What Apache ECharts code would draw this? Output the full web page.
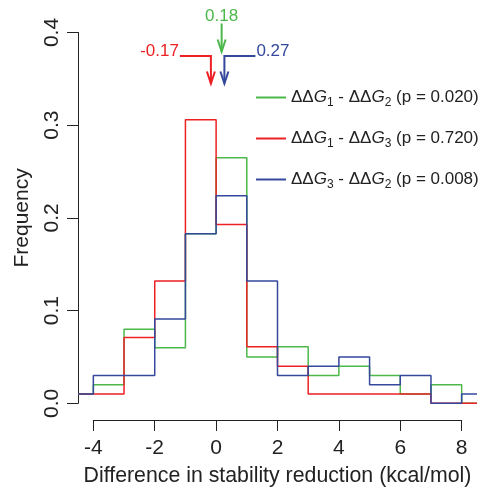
<!DOCTYPE html>
<html>
<head>
<meta charset="utf-8">
<script src="https://cdn.jsdelivr.net/npm/echarts@6/dist/echarts.min.js"></script>
<style>
  html, body { margin: 0; padding: 0; background: #fff; }
  #main { width: 479px; height: 489px; }
</style>
</head>
<body>
<div id="main"></div>
<script>
// bins of width 1, left edges
var binStarts = [-5, -4, -3, -2, -1, 0, 1, 2, 3, 4, 5, 6, 7, 8];
var freqG12 = [0.01, 0.02, 0.08, 0.06, 0.183, 0.265, 0.05, 0.061, 0.03, 0.04, 0.03, 0.01, 0.02, 0.0];
var freqG13 = [0.01, 0.01, 0.071, 0.132, 0.306, 0.193, 0.061, 0.04, 0.01, 0.01, 0.01, 0.01, 0.0, 0.0];
var freqG32 = [0.01, 0.03, 0.03, 0.091, 0.183, 0.224, 0.132, 0.03, 0.04, 0.05, 0.02, 0.03, 0.0, 0.01];
var seriesNames = ['g12', 'g13', 'g32'];
var legendLabels = [
    '{n|ΔΔ}{g|G}{s|1}{n| - ΔΔ}{g|G}{s|2}{n| (p = 0.020)}',
    '{n|ΔΔ}{g|G}{s|1}{n| - ΔΔ}{g|G}{s|3}{n| (p = 0.720)}',
    '{n|ΔΔ}{g|G}{s|3}{n| - ΔΔ}{g|G}{s|2}{n| (p = 0.008)}'
];
var colors = ['#4cb84a', '#ed2024', '#34489c'];
// mean differences shown as arrows
var meanX = [-0.17, 0.18, 0.27];
var meanLabels = ['-0.17', '0.18', '0.27'];
var meanColors = ['#ed2024', '#4cb84a', '#34489c'];
var meanSide = ['left', 'top', 'right'];
var xTicks = [-4, -2, 0, 2, 4, 6, 8];

var xMin = -4.5, xMax = 8.5, yMax = 0.4;

function toSteps(vals) {
    var pts = [];
    for (var i = 0; i < binStarts.length; i++) {
        pts.push([Math.max(binStarts[i], xMin), vals[i]]);
    }
    pts.push([xMax, vals[vals.length - 1]]);
    return pts;
}

var allFreq = [freqG12, freqG13, freqG32];
var font = 'Liberation Sans, Arial, Helvetica, sans-serif';

var series = allFreq.map(function (vals, i) {
    return {
        name: seriesNames[i],
        type: 'line',
        step: 'end',
        symbol: 'none',
        xAxisIndex: 0,
        yAxisIndex: 0,
        data: toSteps(vals),
        lineStyle: { color: colors[i], width: 1.5 },
        itemStyle: { color: colors[i] },
        z: 2 + i
    };
});

series.push({
    type: 'custom',
    xAxisIndex: 0,
    yAxisIndex: 0,
    clip: false,
    silent: true,
    z: 10,
    data: meanX.map(function (x, i) { return [x, i]; }),
    renderItem: function (params, api) {
        var i = api.value(1);
        var p = api.coord([api.value(0), yMax]);
        var px = p[0], top = p[1];
        var c = meanColors[i];
        var side = meanSide[i];
        var children = [];
        var lineStyle = { stroke: c, lineWidth: 2, fill: null };
        var tip, text;
        if (side === 'top') {
            tip = top + 19;
            children.push({ type: 'polyline', shape: { points: [[px, top - 9], [px, tip]] }, style: lineStyle });
            text = { x: px, y: top - 16, align: 'center' };
        } else {
            var dx = side === 'left' ? -31 : 31;
            tip = top + 51;
            children.push({ type: 'polyline', shape: { points: [[px + dx, top + 23.5], [px, top + 23.5], [px, tip]] }, style: lineStyle });
            text = { x: px + dx + (side === 'left' ? -1 : 1), y: top + 19, align: side === 'left' ? 'right' : 'left' };
        }
        children.push({ type: 'polyline', shape: { points: [[px - 4, tip - 12], [px, tip], [px + 4, tip - 12]] }, style: lineStyle });
        children.push({
            type: 'text',
            style: {
                x: text.x, y: text.y, text: meanLabels[i], fill: c,
                font: '17px ' + font, align: text.align, verticalAlign: 'middle'
            }
        });
        return { type: 'group', children: children };
    }
});

var legendTops = [89, 130, 171];
var legends = seriesNames.map(function (name, i) {
    return {
        data: [name],
        left: 256,
        top: legendTops[i],
        padding: 0,
        itemWidth: 30,
        itemHeight: 2,
        icon: 'rect',
        itemStyle: { color: colors[i] },
        selectedMode: false,
        formatter: function () { return legendLabels[i]; },
        textStyle: {
            fontFamily: font,
            fontSize: 17,
            color: '#222',
            rich: {
                n: { fontSize: 17, fontFamily: font, color: '#222' },
                g: { fontSize: 17, fontFamily: font, fontStyle: 'italic', color: '#222' },
                s: { fontSize: 12, fontFamily: font, color: '#222', padding: [10, 0, 0, 0] }
            }
        }
    };
});

var option = {
    animation: false,
    backgroundColor: '#fff',
    legend: legends,
    grid: [
        { left: 78, top: 32.5, width: 399, height: 370.8 },
        { left: 93.3, top: 419, width: 368.4, height: 1 }
    ],
    xAxis: [
        { type: 'value', gridIndex: 0, min: xMin, max: xMax, show: false },
        {
            type: 'value', gridIndex: 1, min: xTicks[0], max: xTicks[xTicks.length - 1], interval: 2,
            position: 'bottom',
            name: 'Difference in stability reduction (kcal/mol)',
            nameLocation: 'middle', nameGap: 46,
            nameTextStyle: { fontFamily: font, fontSize: 21.3, color: '#222' },
            axisLine: { show: true, onZero: false, lineStyle: { color: '#222', width: 1 } },
            axisTick: { show: true, length: 11, lineStyle: { color: '#222' } },
            axisLabel: { fontFamily: font, fontSize: 21, color: '#222', margin: 18, showMinLabel: true, showMaxLabel: true },
            splitLine: { show: false }
        }
    ],
    yAxis: [
        {
            type: 'value', gridIndex: 0, min: 0, max: yMax, interval: 0.1,
            name: 'Frequency', nameLocation: 'middle', nameGap: 45,
            nameTextStyle: { fontFamily: font, fontSize: 21, color: '#222' },
            axisLine: { show: true, onZero: false, lineStyle: { color: '#222', width: 1 } },
            axisTick: { show: true, length: 11, lineStyle: { color: '#222' } },
            axisLabel: {
                fontFamily: font, fontSize: 21, color: '#222', margin: 15, rotate: 90,
                formatter: function (v) { return v.toFixed(1); }
            },
            splitLine: { show: false }
        },
        { type: 'value', gridIndex: 1, show: false, min: 0, max: 1 }
    ],
    series: series
};

var myChart = echarts.init(document.getElementById('main'));
myChart.setOption(option);
</script>
</body>
</html>
